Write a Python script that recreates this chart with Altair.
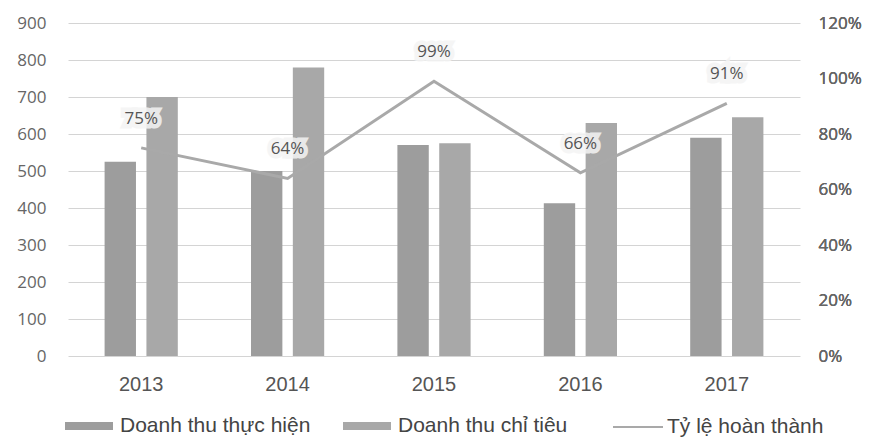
import altair as alt
import pandas as pd

years = ["2013", "2014", "2015", "2016", "2017"]
thuc_hien = [525, 500, 570, 413, 590]
chi_tieu = [700, 780, 575, 630, 645]
ty_le = [0.75, 0.64, 0.99, 0.66, 0.91]
ty_le_labels = ["75%", "64%", "99%", "66%", "91%"]

s1 = "Doanh thu thực hiện"
s2 = "Doanh thu chỉ tiêu"
s3 = "Tỷ lệ hoàn thành"

bars_df = pd.DataFrame(
    [{"year": y, "series": s1, "value": v} for y, v in zip(years, thuc_hien)]
    + [{"year": y, "series": s2, "value": v} for y, v in zip(years, chi_tieu)]
)
line_df = pd.DataFrame({"year": years, "rate": ty_le, "label": ty_le_labels, "name": s3})

xscale = alt.Scale(domain=years, paddingInner=0.5, paddingOuter=0.25)
xaxis = alt.Axis(title=None, labelFont="Liberation Sans", labelFontSize=20, labelColor="#555555",
                 labelPadding=18, ticks=False, domain=False, labelAngle=0, grid=False)

bars = alt.Chart(bars_df).mark_bar().encode(
    x=alt.X("year:N", scale=xscale, axis=xaxis),
    xOffset=alt.XOffset("series:N", scale=alt.Scale(domain=[s1, s2], paddingInner=0.25)),
    y=alt.Y("value:Q", scale=alt.Scale(domain=[0, 900]),
            axis=alt.Axis(title=None, values=list(range(0, 1000, 100)), labelFont="Open Sans",
                          labelFontSize=17, labelColor="#666666", labelPadding=22, ticks=False,
                          domain=False, grid=True, gridColor="#d4d4d4", gridWidth=1)),
    color=alt.Color("series:N", scale=alt.Scale(domain=[s1, s2], range=["#9d9d9d", "#a8a8a8"]),
                    legend=alt.Legend(title=None, orient="none", legendX=-3, legendY=379,
                                      direction="horizontal",
                                      symbolType="M-1,-0.17H1V0.17H-1Z", symbolSize=2304,
                                      symbolStrokeWidth=0, symbolOpacity=1,
                                      labelFont="Liberation Sans", labelFontSize=21,
                                      labelColor="#444444", labelOffset=7, columnPadding=32,
                                      labelLimit=400)),
)

yright = alt.Y("rate:Q", scale=alt.Scale(domain=[0, 1.2]),
               axis=alt.Axis(title=None, orient="right", values=[0, 0.2, 0.4, 0.6, 0.8, 1.0, 1.2],
                             format=".0%", labelFont="Open Sans", labelFontSize=17,
                             labelColor="#666666", labelPadding=18, ticks=False, domain=False,
                             grid=False))

line = alt.Chart(line_df).mark_line(strokeWidth=3).encode(
    x=alt.X("year:N", scale=xscale, axis=xaxis),
    y=yright,
    stroke=alt.Stroke("name:N", scale=alt.Scale(domain=[s3], range=["#a9a9a9"]),
                      legend=alt.Legend(title=None, orient="none", legendX=544, legendY=378,
                                        symbolType="stroke", symbolSize=2500, symbolStrokeWidth=2,
                                        symbolStrokeColor="#a9a9a9",
                                        labelFont="Liberation Sans", labelFontSize=21,
                                        labelColor="#444444", labelOffset=3, labelLimit=400)),
)

halo = alt.Chart(line_df).mark_text(dy=-29, fontSize=17, font="Open Sans", stroke="#f4f4f4",
                                    strokeWidth=9, opacity=0.85, color="#f4f4f4").encode(
    x=alt.X("year:N", scale=xscale, axis=xaxis),
    y=yright,
    text="label:N",
)
labels = alt.Chart(line_df).mark_text(dy=-29, fontSize=17, font="Open Sans", color="#555555").encode(
    x=alt.X("year:N", scale=xscale, axis=xaxis),
    y=yright,
    text="label:N",
)

chart = alt.layer(bars, line, halo, labels).resolve_scale(y="independent").properties(
    width=732, height=333,
    background="white",
    autosize=alt.AutoSizeParams(type="none"),
    padding={"left": 60, "top": 15, "right": 69, "bottom": 82},
).configure_view(stroke=None)

chart.save("out.html", embed_options={"renderer": "svg", "actions": False})
